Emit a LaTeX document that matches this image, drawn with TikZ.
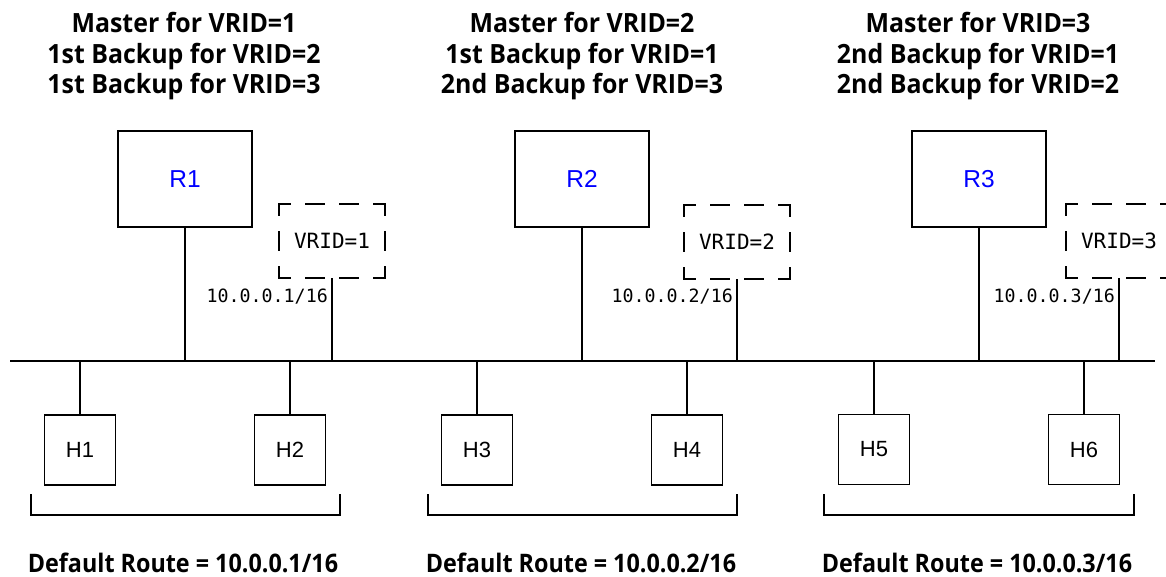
\documentclass[tikz,border=0pt]{standalone}
\usepackage{fontspec}
\newfontfamily\titlefont{Open Sans}[FakeStretch=0.94]
\newfontfamily\routefont{Open Sans}[FakeStretch=0.915]
\newfontfamily\monofont{DejaVu Sans Mono}
\newfontfamily\helvfont{Liberation Sans}
\begin{document}
\begin{tikzpicture}[x=1pt,y=-1pt,
  lw/.style={line width=1.5pt},
  router/.style={draw, line width=1.5pt, minimum width=134pt, minimum height=96pt, inner sep=0pt, outer sep=0pt, font=\helvfont\fontsize{24.5}{28}\selectfont, text=blue},
  host/.style={draw, line width=1.5pt, minimum width=71pt, minimum height=70pt, inner sep=0pt, outer sep=0pt, font=\helvfont\fontsize{22}{26}\selectfont},
  vrid/.style={minimum width=106pt, minimum height=74pt, inner sep=0pt, outer sep=0pt, font=\monofont\fontsize{21}{25}\selectfont},
  iplabel/.style={anchor=base east, inner sep=0pt, font=\monofont\fontsize{18.3}{22}\selectfont},
  title/.style={anchor=base, inner sep=0pt, font=\titlefont\bfseries\fontsize{26.5}{30}\selectfont},
  route/.style={anchor=base, inner sep=0pt, font=\routefont\bfseries\fontsize{25.5}{30}\selectfont},
  hdash/.style={line width=1.5pt, line cap=rect, dash pattern=on 11.25pt off 15.5pt on 18.5pt off 15.5pt on 18.5pt off 15.5pt on 11.25pt off 300pt},
  vdash/.style={line width=1.5pt, line cap=rect, dash pattern=on 11.25pt off 16.5pt on 18.5pt off 16.5pt on 11.25pt off 300pt}]
\clip (0,0) rectangle (1166,577);
\fill[white] (0,0) rectangle (1166,577);

% titles
\foreach \cx/\a/\b/\c [count=\i] in {184/Master for VRID=1/1st Backup for VRID=2/1st Backup for VRID=3,
                          582/Master for VRID=2/1st Backup for VRID=1/2nd Backup for VRID=3,
                          978/Master for VRID=3/2nd Backup for VRID=1/2nd Backup for VRID=2}{
  \node[title] (ta\i) at (\cx,33) {\a};
  \node[title] (tb\i) at (\cx,64) {\b};
  \node[title] (tc\i) at (\cx,94) {\c};
}

% bus
\coordinate (busL) at (10,361);
\coordinate (busR) at (1155,361);
\draw[lw] (busL) -- (busR);

% routers
\node[router] (R1) at (185,179) {R1};
\node[router] (R2) at (582,179) {R2};
\node[router] (R3) at (979,179) {R3};
\foreach \r in {R1,R2,R3}{\draw[lw] (\r.south) -- (\r.south |- busL);}

% virtual router boxes
\node[vrid] (V1) at (332,241) {VRID=1};
\node[vrid] (V2) at (737,242) {VRID=2};
\node[vrid] (V3) at (1119,241) {VRID=3};
\foreach \v in {V1,V2,V3}{
  \draw[hdash] (\v.north west) -- (\v.north east);
  \draw[hdash] (\v.south west) -- (\v.south east);
  \draw[vdash] (\v.north west) -- (\v.south west);
  \draw[vdash] (\v.north east) -- (\v.south east);
  \draw[lw] (\v.south) -- (\v.south |- busL);
}

% IP labels
\node[iplabel] (ip1) at (328,302) {10.0.0.1/16};
\node[iplabel] (ip2) at (733,302) {10.0.0.2/16};
\node[iplabel] (ip3) at (1115,302) {10.0.0.3/16};

% hosts
\node[host] (H1) at (80,450) {H1};
\node[host] (H2) at (290,450) {H2};
\node[host] (H3) at (477,450) {H3};
\node[host] (H4) at (687,450) {H4};
\node[host] (H5) at (874,449.5) {H5};
\node[host] (H6) at (1084,449.5) {H6};
\foreach \h in {H1,H2,H3,H4,H5,H6}{\draw[lw] (\h.north) -- (\h.north |- busL);}

% brackets
\foreach \l/\r [count=\i] in {31/340,428/737,824/1134}{
  \coordinate (bl\i) at (\l,494);
  \coordinate (br\i) at (\r,494);
  \draw[lw] (bl\i) -- ++(0,21) -| (br\i);
}

% default routes
\node[route] (d1) at (183,572) {Default Route = 10.0.0.1/16};
\node[route] (d2) at (581,572) {Default Route = 10.0.0.2/16};
\node[route] (d3) at (977,572) {Default Route = 10.0.0.3/16};
\end{tikzpicture}
\end{document}
